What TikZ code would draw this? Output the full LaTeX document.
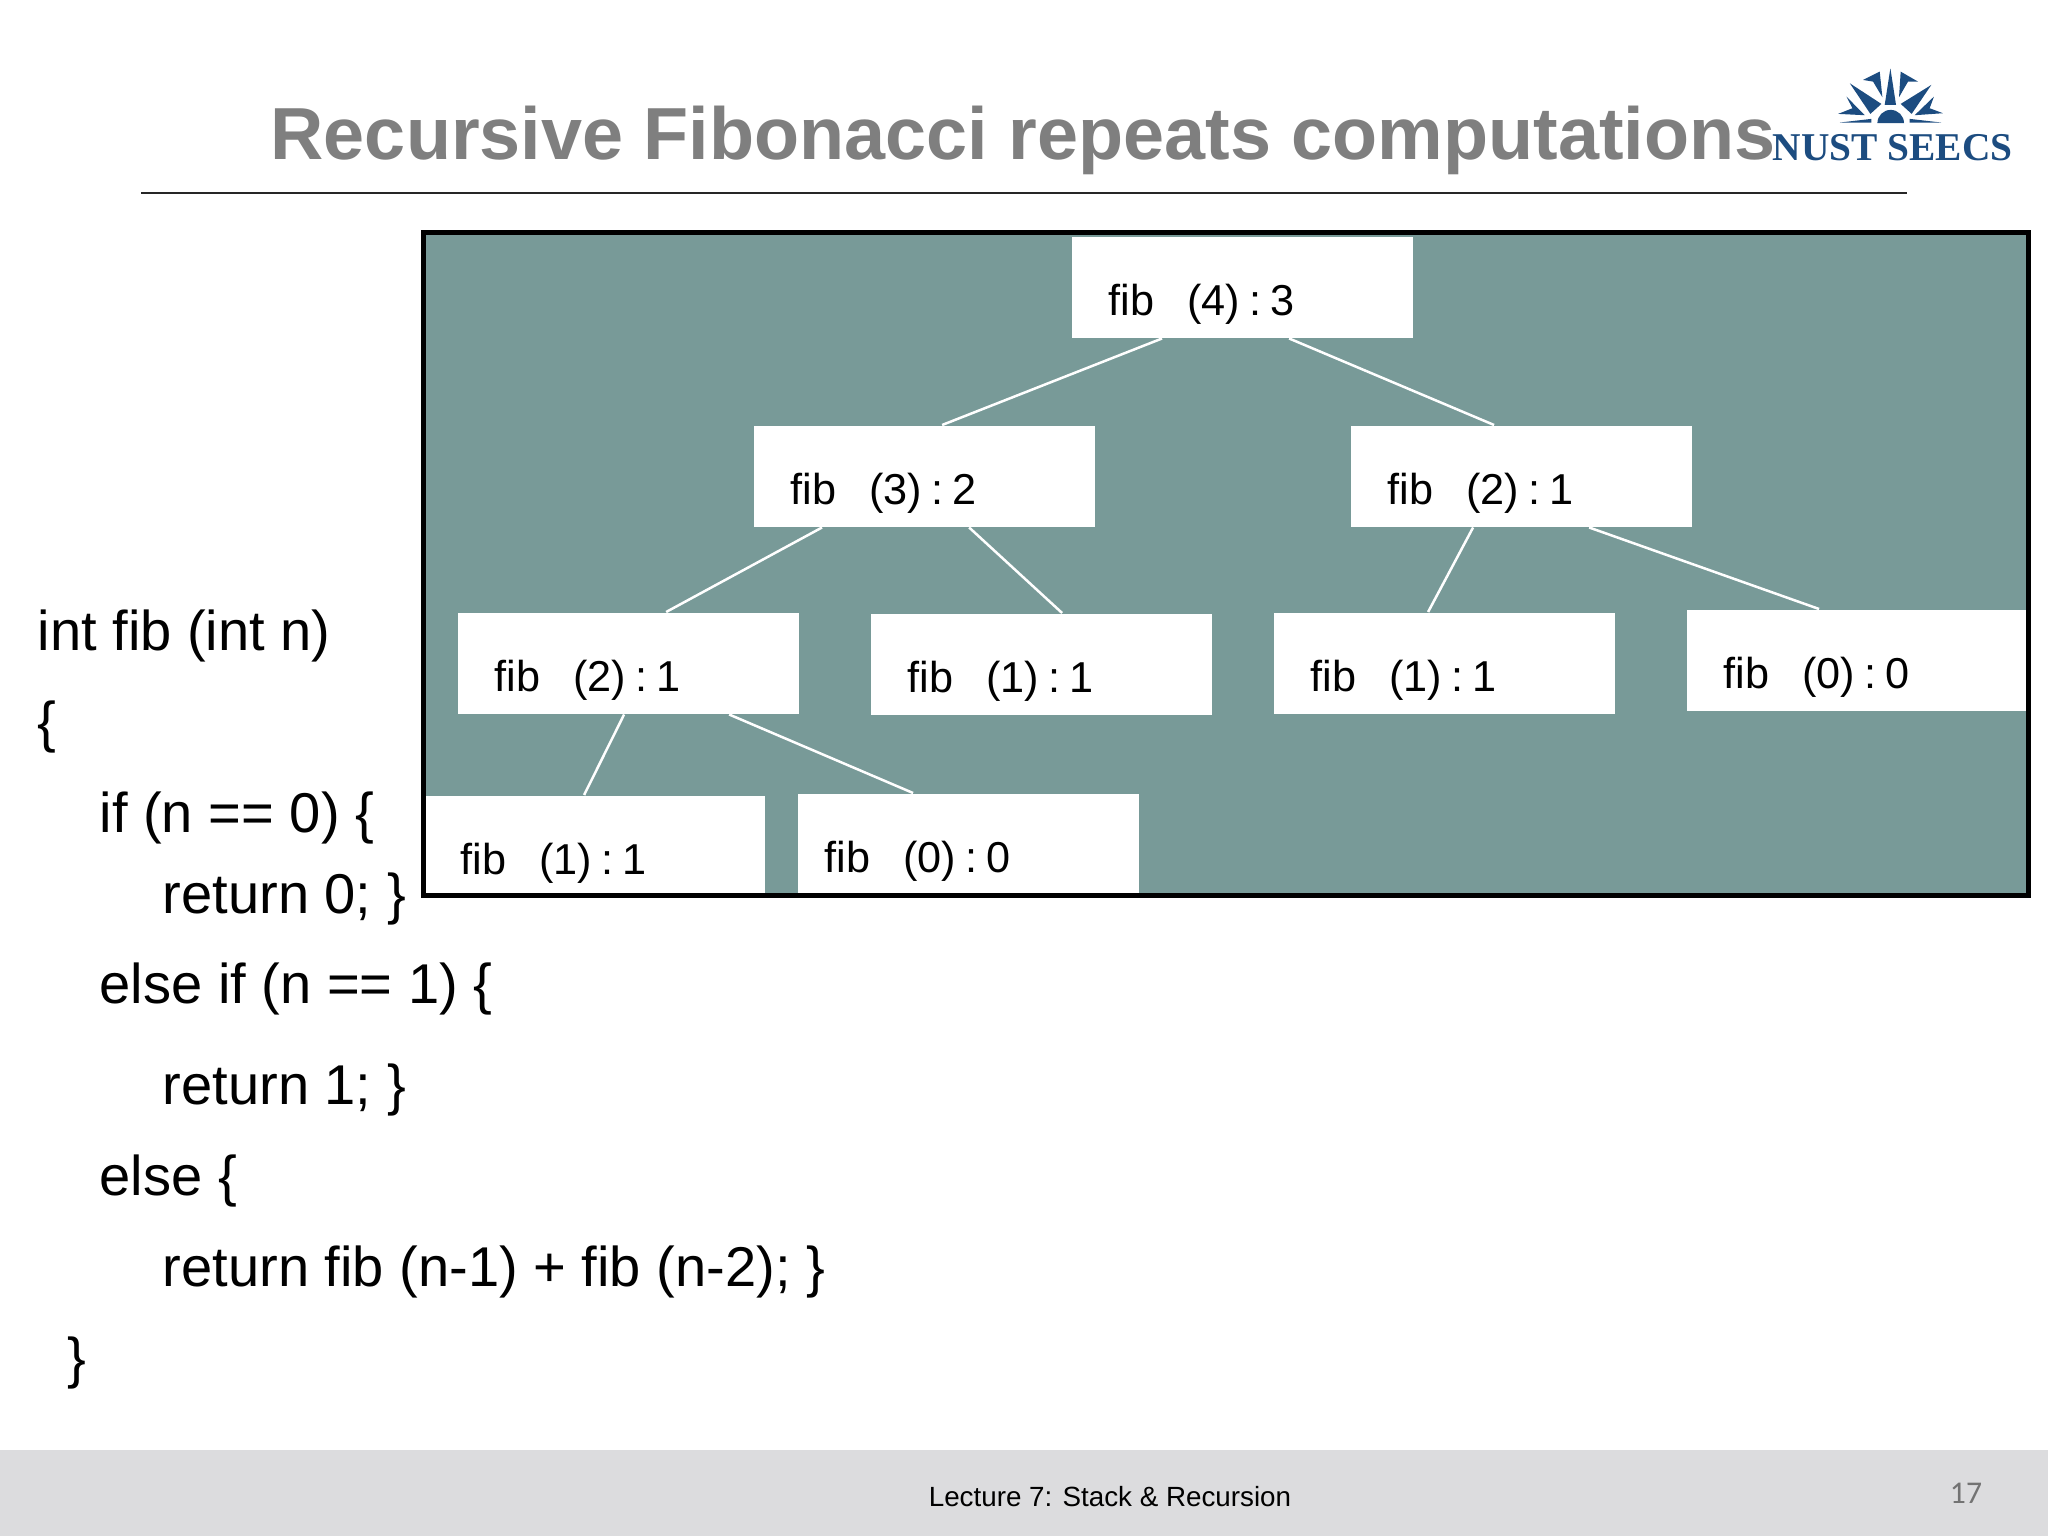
\documentclass[tikz,border=0pt]{standalone}
\usepackage{fontspec}
\setmainfont{Liberation Sans}
\newfontfamily\logofont{Liberation Serif}
\newfontfamily\pagefont{Carlito}
\definecolor{panelteal}{HTML}{789A98}
\definecolor{footgray}{HTML}{DCDCDE}
\definecolor{logoblue}{HTML}{1C4C80}
\definecolor{titlegray}{HTML}{7F7F7F}
\tikzset{
  fibbox/.style={anchor=north west,fill=white,inner xsep=0.37cm,inner ysep=0pt,text width=2.67cm,
    text height=0.79cm,text depth=0.22cm,align=left,font=\fontsize{12.3}{14}\selectfont},
  link/.style={draw=white,line width=0.025cm},
  code/.style={anchor=base west,inner sep=0pt,font=\fontsize{15.95}{18}\selectfont},
  ray/.style={fill=logoblue,draw=none}
}
\newcommand{\fibtext}[2]{fib\hspace{0.33cm}(#1)\hspace{0.09cm}:\hspace{0.09cm}#2}
\begin{document}
\begin{tikzpicture}[x=0.01cm,y=-0.01cm]
\useasboundingbox (0,0) rectangle (2048,1536);
\fill[footgray] (0,1450) rectangle (2048,1536);
% title and rule
\node at (270,159)[anchor=base west,inner sep=0pt,text=titlegray,font=\bfseries\fontsize{20.98}{24}\selectfont] (title) {Recursive Fibonacci repeats computations};
\draw[black!85,line width=0.015cm] (141,193) -- (1907,193);
% logo
\begin{scope}[shift={(1700,40)},x=0.00333cm,y=-0.00333cm]
\fill[ray] (533,250) arc[start angle=180,end angle=360,radius=40] -- cycle;
\fill[ray] (572,85) -- (589,195) -- (555,195) -- cycle;
\fill[ray] (450,130) -- (545,192) -- (512,222) -- cycle;
\fill[ray] (695,135) -- (603,192) -- (636,222) -- cycle;
\fill[ray] (490,120) -- (540,95) -- (548,172) -- (520,125) -- cycle;
\fill[ray] (655,125) -- (603,95) -- (598,172) -- (625,125) -- cycle;
\fill[ray] (440,170) -- (495,226) -- (415,222) -- (458,205) -- cycle;
\fill[ray] (703,170) -- (645,226) -- (730,220) -- (690,205) -- cycle;
\fill[ray] (420,248) -- (515,237) -- (515,248) -- cycle;
\fill[ray] (725,248) -- (630,237) -- (630,248) -- cycle;
\end{scope}
\node at (1772,160)[anchor=base west,inner sep=0pt,text=logoblue,font=\logofont\bfseries\fontsize{11.2}{14}\selectfont] (logo) {NUST SEECS};
% tree panel
\fill[panelteal] (423,232) rectangle (2028,895);
\node at (1071,236)[fibbox] (F4) {\fibtext{4}{3}};
\node at (753,425)[fibbox] (F3) {\fibtext{3}{2}};
\node at (1350,425)[fibbox] (F2) {\fibtext{2}{1}};
\node at (457,612)[fibbox] (F2b) {\fibtext{2}{1}};
\node at (870,613)[fibbox] (F1a) {\fibtext{1}{1}};
\node at (1273,612)[fibbox] (F1b) {\fibtext{1}{1}};
\node at (1686,609)[fibbox] (F0a) {\fibtext{0}{0}};
\node at (423,795)[fibbox] (F1c) {\fibtext{1}{1}};
\node at (797,793)[fibbox,inner xsep=0.27cm,text width=2.87cm] (F0b) {\fibtext{0}{0}};
\draw[link] ([xshift=0.91cm]F4.south west) -- ([xshift=1.89cm]F3.north west);
\draw[link] ([xshift=2.18cm]F4.south west) -- ([xshift=1.44cm]F2.north west);
\draw[link] ([xshift=0.69cm]F3.south west) -- ([xshift=2.09cm]F2b.north west);
\draw[link] ([xshift=2.16cm]F3.south west) -- ([xshift=1.92cm]F1a.north west);
\draw[link] ([xshift=1.23cm]F2.south west) -- ([xshift=1.55cm]F1b.north west);
\draw[link] ([xshift=2.39cm]F2.south west) -- ([xshift=1.33cm]F0a.north west);
\draw[link] ([xshift=1.67cm]F2b.south west) -- ([xshift=1.61cm]F1c.north west);
\draw[link] ([xshift=2.72cm]F2b.south west) -- ([xshift=1.16cm]F0b.north west);
\draw[black,line width=0.05cm] (423,232) rectangle (2028,895);
% code
\node at (37,650)[code] (line1) {int fib (int n)};
\node at (37,741)[code] (line2) {\{};
\node at (99,832)[code] (line3) {if (n == 0) \{};
\node at (162,913)[code] (line4) {return 0; \}};
\node at (99,1003)[code] (line5) {else if (n == 1) \{};
\node at (162,1104)[code] (line6) {return 1; \}};
\node at (99,1195)[code] (line7) {else \{};
\node at (162,1286)[code] (line8) {return fib (n-1) + fib (n-2); \}};
\node at (67,1377)[code] (line9) {\}};
% footer
\node at (1110,1506)[anchor=base,inner sep=0pt,font=\fontsize{7.9}{10}\selectfont] (foot) {Lecture 7: Stack \& Recursion};
\node at (1966,1503)[anchor=base,inner sep=0pt,text=black!55,font=\pagefont\fontsize{9}{11}\selectfont] (page) {17};
\end{tikzpicture}
\end{document}
